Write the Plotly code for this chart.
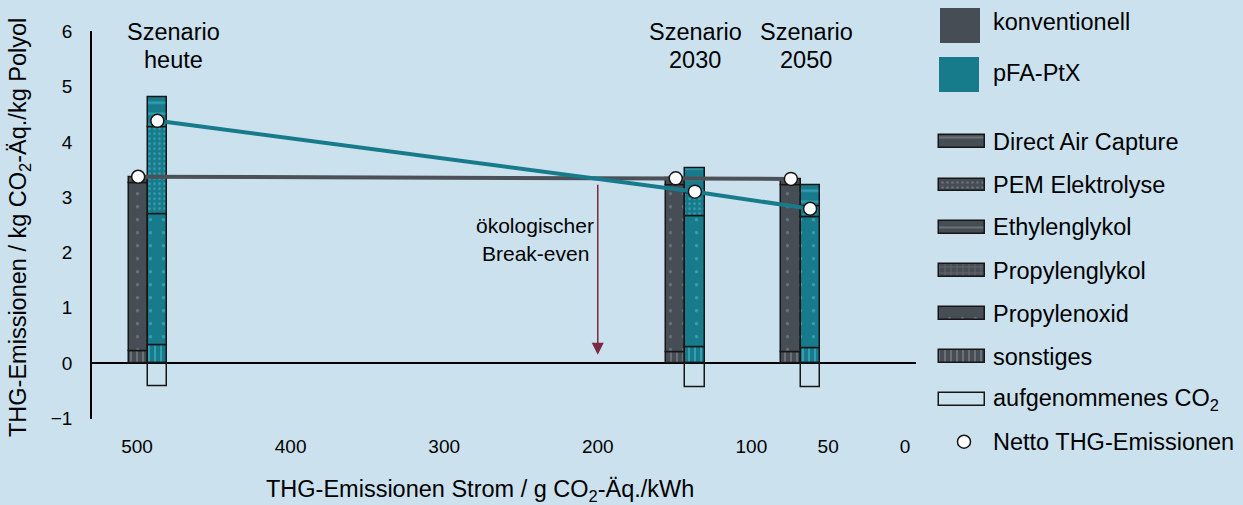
import plotly.graph_objects as go

# Strom-Emissionsfaktor je Szenario (g CO2-Äq./kWh)
scenario_x = [500, 150, 75]
scenario_names = ["heute", "2030", "2050"]
x_ticks = [500, 400, 300, 200, 100, 50, 0]

# Beiträge konventionell (kg CO2-Äq./kg Polyol)
konv_sonstiges = [0.22, 0.19, 0.19]
konv_propylenoxid = [3.03, 3.03, 3.03]
konv_propylenglykol = [0.12, 0.12, 0.11]

# Beiträge pFA-PtX (kg CO2-Äq./kg Polyol)
pfa_sonstiges = [0.32, 0.28, 0.27]
pfa_propylenoxid = [2.37, 2.37, 2.37]
pfa_pem = [1.57, 0.43, 0.19]
pfa_dac = [0.54, 0.45, 0.39]
pfa_co2_uptake = [-0.42, -0.43, -0.43]

konv_netto = [a + b + c for a, b, c in zip(konv_sonstiges, konv_propylenoxid, konv_propylenglykol)]
pfa_netto = [a + b + c + d + e for a, b, c, d, e in
             zip(pfa_sonstiges, pfa_propylenoxid, pfa_pem, pfa_dac, pfa_co2_uptake)]

W, H = 1243, 505
BG = "#cbe2ee"
GRAY = "#474d54"
TEAL = "#187b8c"
GRAY_FG = "#8d949a"
TEAL_FG = "#4fc4d8"
EDGE = "#161616"
FONT = "Liberation Sans, Arial, sans-serif"

BAR_W = 12.5
BAR_OFF = -7.0
PFA_SHIFT = 12.5

konv_pos = scenario_x
pfa_pos = [v - PFA_SHIFT for v in scenario_x]
konv_mid = [v + BAR_OFF + BAR_W / 2 for v in konv_pos]
pfa_mid = [v + BAR_OFF + BAR_W / 2 for v in pfa_pos]

PATTERNS = {
    "dac": dict(shape="-", size=11, solidity=0.2),
    "pem": dict(shape=".", size=5, solidity=0.2),
    "eg": dict(shape="-", size=13, solidity=0.15),
    "pg": dict(shape="+", size=6, solidity=0.2),
    "po": dict(shape=".", size=13, solidity=0.05),
    "sonst": dict(shape="|", size=6, solidity=0.33),
}


def pat(key, fg):
    d = dict(PATTERNS[key])
    d.update(fgcolor=fg, fillmode="overlay")
    return d


fig = go.Figure()


def stack_bar(pos, vals, color, key, fg):
    marker = dict(color=color, line=dict(color=EDGE, width=1.5))
    if key:
        marker["pattern"] = pat(key, fg)
    fig.add_trace(go.Bar(
        x=pos, y=vals, width=BAR_W, offset=BAR_OFF, marker=marker,
        showlegend=False, hoverinfo="skip",
    ))


# konventionell
stack_bar(konv_pos, konv_sonstiges, GRAY, "sonst", GRAY_FG)
stack_bar(konv_pos, konv_propylenoxid, GRAY, "po", GRAY_FG)
stack_bar(konv_pos, konv_propylenglykol, GRAY, "pg", GRAY_FG)
# pFA-PtX
stack_bar(pfa_pos, pfa_sonstiges, TEAL, "sonst", TEAL_FG)
stack_bar(pfa_pos, pfa_propylenoxid, TEAL, "po", TEAL_FG)
stack_bar(pfa_pos, pfa_pem, TEAL, "pem", TEAL_FG)
stack_bar(pfa_pos, pfa_dac, TEAL, "dac", TEAL_FG)
stack_bar(pfa_pos, pfa_co2_uptake, "rgba(0,0,0,0)", None, None)

# Netto-Verläufe
fig.add_trace(go.Scatter(x=konv_mid, y=konv_netto, mode="lines",
                         line=dict(color="#4b5157", width=4), showlegend=False, hoverinfo="skip"))
fig.add_trace(go.Scatter(x=pfa_mid, y=pfa_netto, mode="lines",
                         line=dict(color=TEAL, width=4), showlegend=False, hoverinfo="skip"))
fig.add_trace(go.Scatter(x=konv_mid + pfa_mid, y=konv_netto + pfa_netto, mode="markers",
                         marker=dict(size=13, color="white", line=dict(color=EDGE, width=1.5)),
                         showlegend=False, hoverinfo="skip"))

# Legende auf eigener Pixel-Achse (rechts neben dem Diagramm)
LX0, LX1 = 930, 1000
LX = 939
legend_items = [
    ("Direct Air Capture", "dac", 141.7),
    ("PEM Elektrolyse", "pem", 185.0),
    ("Ethylenglykol", "eg", 227.5),
    ("Propylenglykol", "pg", 270.5),
    ("Propylenoxid", "po", 313.5),
    ("sonstiges", "sonst", 356.5),
]


def legend_box(yc, w, h, color, line, pattern=None, x0=LX):
    marker = dict(color=color, line=line)
    if pattern:
        marker["pattern"] = pattern
    fig.add_trace(go.Bar(
        x=[w], y=[yc], base=[x0], width=[h], orientation="h", marker=marker,
        xaxis="x2", yaxis="y2", showlegend=False, hoverinfo="skip",
    ))


legend_box(25.5, 40, 34.5, GRAY, dict(width=0), x0=940)
legend_box(74.5, 40, 34.5, TEAL, dict(width=0))
for name, key, yc in legend_items:
    legend_box(yc, 46, 12.5, GRAY, dict(color=EDGE, width=1.5), pat(key, GRAY_FG))
legend_box(399.5, 46, 12.5, "rgba(0,0,0,0)", dict(color=EDGE, width=1.5))
fig.add_trace(go.Scatter(x=[964], y=[441.7], mode="markers",
                         marker=dict(size=13, color="white", line=dict(color=EDGE, width=1.5)),
                         xaxis="x2", yaxis="y2", showlegend=False, hoverinfo="skip"))

legend_texts = [("konventionell", 22), ("pFA-PtX", 73)] + [(n, y) for n, _, y in legend_items] + [
    ("aufgenommenes CO<sub>2</sub>", 399.5), ("Netto THG-Emissionen", 441.7)]

TXT = 23.5
annotations = []


def label(text, xc, yc, size=TXT, anchor="center", angle=0):
    annotations.append(dict(text=text, x=xc / W, y=1 - yc / H, xref="paper", yref="paper",
                            xanchor=anchor, yanchor="middle", showarrow=False, textangle=angle,
                            font=dict(size=size, color="black", family=FONT)))


for text, yc in legend_texts:
    label(text, 991, yc, anchor="left")

# Szenario-Beschriftungen
for name, xc in zip(scenario_names, [173, 695, 806]):
    label("Szenario", xc, 32)
    label(name, xc, 60)

# ökologischer Break-even
label("ökologischer", 535, 226, size=21)
label("Break-even", 535, 253, size=21)
annotations.append(dict(x=200, y=0.15, ax=200, ay=3.25, xref="x", yref="y", axref="x", ayref="y",
                        text="", showarrow=True, arrowhead=2, arrowsize=1.6, arrowwidth=1.5,
                        arrowcolor="#7a2a42"))

# Achsentitel
label("THG-Emissionen Strom / g CO<sub>2</sub>-Äq./kWh", 480, 490)
label("THG-Emissionen / kg CO<sub>2</sub>-Äq./kg Polyol", 20, 228, angle=-90)

fig.update_layout(
    width=W, height=H, margin=dict(l=0, r=0, t=0, b=0, pad=0, autoexpand=False),
    paper_bgcolor=BG, plot_bgcolor="rgba(0,0,0,0)",
    barmode="relative", bargap=0,
    font=dict(family=FONT, size=19, color="black"),
    annotations=annotations,
    xaxis=dict(domain=[92 / W, 916 / W], range=[529.3, -7.2], tickvals=x_ticks, anchor="y",
               showgrid=False, zeroline=False, showline=False, ticks="", automargin=False,
               ticklabelstandoff=14, tickfont=dict(size=19)),
    yaxis=dict(domain=[(H - 418.5) / H, (H - 31.2) / H], range=[-1, 6], dtick=1, anchor="x",
               showgrid=False, zeroline=True, zerolinecolor="black", zerolinewidth=1.5,
               showline=True, linecolor="black", linewidth=1.5, ticks="", automargin=False,
               ticklabelstandoff=14, tickfont=dict(size=19)),
    xaxis2=dict(domain=[LX0 / W, LX1 / W], range=[LX0, LX1], anchor="y2", visible=False,
                fixedrange=True, automargin=False),
    yaxis2=dict(domain=[0, 1], range=[H, 0], anchor="x2", visible=False,
                fixedrange=True, automargin=False),
)

fig.write_html("out.html", config=dict(displayModeBar=False))
